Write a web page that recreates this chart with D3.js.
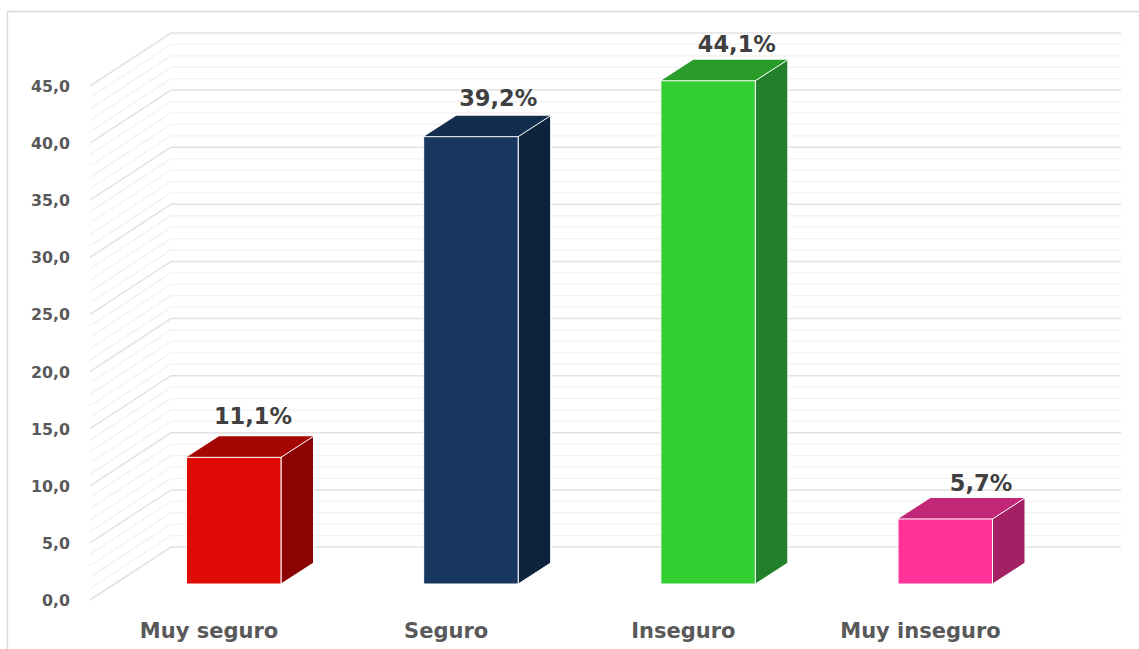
<!DOCTYPE html>
<html><head><meta charset="utf-8">
<script src="https://cdnjs.cloudflare.com/ajax/libs/d3/7.8.5/d3.min.js"></script>
<style>html,body{margin:0;padding:0;background:#fff}svg{display:block}text{font-family:"DejaVu Sans",sans-serif;font-weight:700}</style>
</head><body><svg id="c" width="1139" height="649"></svg>
<script>
const categories = ["Muy seguro", "Seguro", "Inseguro", "Muy inseguro"];
const values = [11.1, 39.2, 44.1, 5.7];
const valueLabels = ["11,1%", "39,2%", "44,1%", "5,7%"];
const frontColors = ["#df0a06", "#17375e", "#33cf33", "#ff3399"];
const topColors = ["#a50604", "#132d4e", "#2a9c2a", "#c22676"];
const sideColors = ["#8b0302", "#0d233c", "#22802a", "#a32064"];
const axisTicks = [0, 5, 10, 15, 20, 25, 30, 35, 40, 45];
const gridValues = d3.range(0, 46);

const svg = d3.select("#c");
const fmt = d => d3.format(".1f")(d).replace(".", ",");

// frame
svg.append("path").attr("d", "M7.5,649V11.5H1139").attr("fill", "none").attr("stroke", "#d9d9d9").attr("stroke-width", 1.3);

const yFront = d3.scaleLinear().domain([0, 45]).range([600, 86]);
const yBack = d3.scaleLinear().domain([0, 45]).range([547, 33]);
const yBar = d3.scaleLinear().domain([0, 45]).range([584, 70.5]);
const xBarStart = d3.scalePoint().domain(categories).range([186.5, 898]);
const barW = 94.5, depthX = 32.5, depthY = 21;
const xFront = 90, xBack = 171, xEnd = 1121;

// grid
const grid = svg.append("g").attr("fill", "none");
const isMajor = d => d % 5 === 0;
grid.selectAll("path").data(gridValues.filter(d => !isMajor(d)).concat(axisTicks)).join("path")
  .attr("d", d => `M${xFront},${yFront(d)}L${xBack},${yBack(d)}H${xEnd}`)
  .attr("stroke", d => isMajor(d) ? "#e2e2e2" : "#f2f2f2")
  .attr("stroke-width", d => isMajor(d) ? 1.5 : 1.3);

// axis
const axis = d3.axisLeft(yFront).tickValues(axisTicks).tickFormat(fmt).tickSize(0).tickPadding(0);
const ag = svg.append("g").attr("transform", "translate(70,0)").call(axis);
ag.select(".domain").remove();
ag.selectAll("text").attr("fill", "#595959").attr("font-size", 15.8).attr("dy", "0.35em").style("font-family", '"DejaVu Sans",sans-serif').style("font-weight", 700);

// bars
const bars = svg.selectAll("g.bar").data(categories).join("g").attr("class", "bar");
bars.append("path").attr("fill", (d, i) => topColors[i])
  .attr("d", (d, i) => { const a = xBarStart(d), t = yBar(values[i]);
    return `M${a},${t}L${a + depthX},${t - depthY}H${a + barW + depthX}L${a + barW},${t}Z`; });
bars.append("path").attr("fill", (d, i) => sideColors[i]).attr("stroke", "#fff").attr("stroke-width", 1)
  .attr("d", (d, i) => { const a = xBarStart(d) + barW, t = yBar(values[i]), b = yBar(0);
    return `M${a},${t}L${a + depthX},${t - depthY}V${b - depthY}L${a},${b}Z`; });
bars.append("rect").attr("x", d => xBarStart(d)).attr("width", barW)
  .attr("y", (d, i) => yBar(values[i])).attr("height", (d, i) => yBar(0) - yBar(values[i]))
  .attr("fill", (d, i) => frontColors[i]).attr("stroke", "#fff").attr("stroke-width", 1);

// value labels
const labelDx = [66.5, 74.5, 76, 83];
const labelDy = [33, 30.5, 29, 28];
bars.append("text").attr("text-anchor", "middle").attr("fill", "#404040").attr("font-size", 22.5)
  .attr("x", (d, i) => xBarStart(d) + labelDx[i])
  .attr("y", (d, i) => yBar(values[i]) - labelDy[i])
  .text((d, i) => valueLabels[i]);

// category labels
bars.append("text").attr("text-anchor", "middle").attr("fill", "#595959").attr("font-size", 21)
  .attr("x", (d, i) => xBarStart(d) + 22.5).attr("y", 638).text(d => d);
</script></body></html>
